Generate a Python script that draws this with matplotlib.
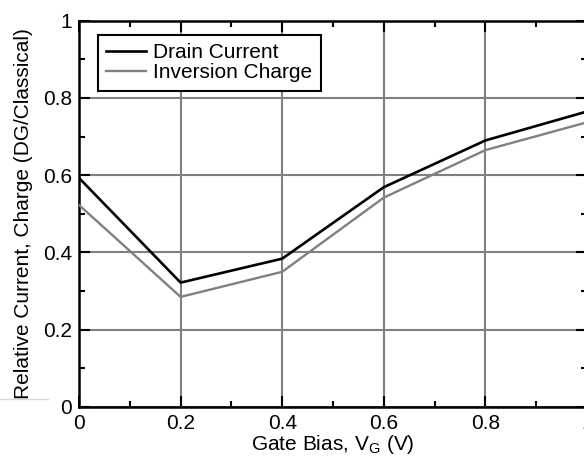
import matplotlib
matplotlib.use('Agg')
import matplotlib.pyplot as plt
from matplotlib.ticker import MultipleLocator
from matplotlib.lines import Line2D

# gate bias (V) and ratios DG / classical
vg = [0.0, 0.2, 0.4, 0.6, 0.8, 1.0]
drain_current = [0.593, 0.322, 0.384, 0.569, 0.690, 0.765]
inversion_charge = [0.523, 0.285, 0.350, 0.542, 0.665, 0.737]

plt.rcParams['font.family'] = ['Liberation Sans', 'DejaVu Sans']
plt.rcParams['mathtext.fontset'] = 'custom'
plt.rcParams['mathtext.rm'] = 'Liberation Sans'
plt.rcParams['mathtext.it'] = 'Liberation Sans'

fig = plt.figure(figsize=(5.84, 4.59), dpi=100)
ax = fig.add_axes([79 / 584, 1 - 407 / 459, 508 / 584, 386.3 / 459])

ax.plot(vg, drain_current, color='black', lw=1.9, label='Drain Current', zorder=3)
ax.plot(vg, inversion_charge, color='#808080', lw=1.7, label='Inversion Charge', zorder=3)

ax.set_xlim(0, 1)
ax.set_ylim(0, 1)
ax.xaxis.set_major_locator(MultipleLocator(0.2))
ax.xaxis.set_minor_locator(MultipleLocator(0.1))
ax.yaxis.set_major_locator(MultipleLocator(0.2))
ax.yaxis.set_minor_locator(MultipleLocator(0.1))
ax.xaxis.set_major_formatter(plt.FuncFormatter(lambda v, p: '%g' % round(v, 2)))
ax.yaxis.set_major_formatter(plt.FuncFormatter(lambda v, p: '%g' % round(v, 2)))

ax.tick_params(which='both', direction='in', top=True, right=True, labelsize=15, width=1.5)
ax.tick_params(which='major', length=8, pad=5)
ax.tick_params(which='minor', length=4)
for s in ax.spines.values():
    s.set_linewidth(1.8)

ax.grid(True, which='major', color='#808080', lw=1.5)
ax.set_axisbelow(True)

ax.set_xlabel('Gate Bias, V$_\\mathrm{G}$ (V)', fontsize=15, labelpad=0)
ax.set_ylabel('Relative Current, Charge (DG/Classical)', fontsize=15)
ax.yaxis.set_label_coords(-0.09, 0.5)

leg = ax.legend(loc='upper left', bbox_to_anchor=(98 / 584, 1 - 35 / 459),
                bbox_transform=fig.transFigure, borderaxespad=0, fontsize=15,
                fancybox=False, framealpha=1, edgecolor='black',
                handlelength=1.9, handletextpad=0.35, labelspacing=0.05, borderpad=0.4)
leg.get_frame().set_linewidth(1.5)

# faint stray line at lower left of the original
fig.add_artist(Line2D([0, 48 / 584], [1 - 399 / 459] * 2, color='#d8d8d8', lw=1))

plt.savefig('out.png', dpi=100)
